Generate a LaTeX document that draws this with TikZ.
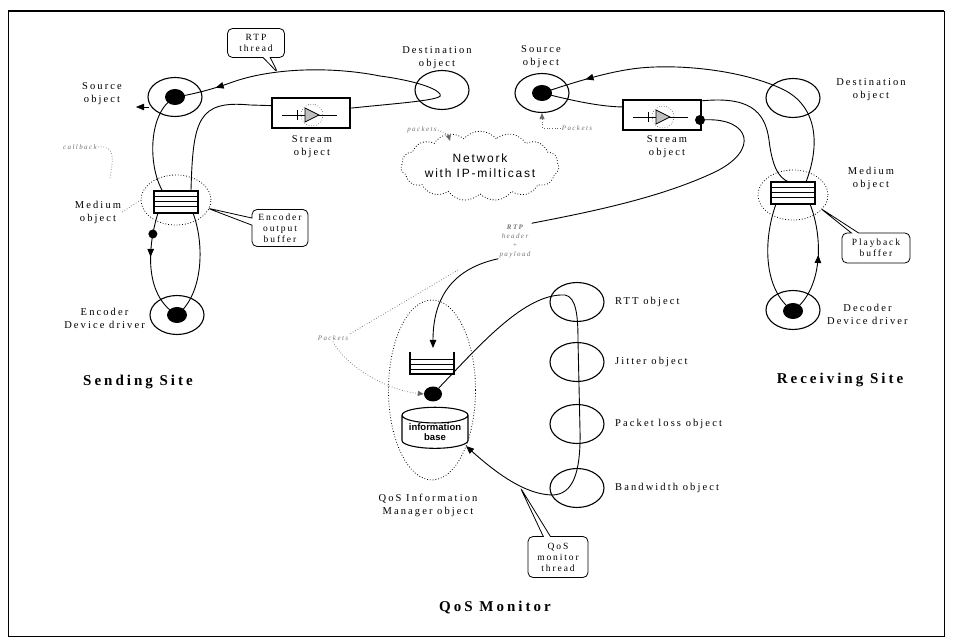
\documentclass[tikz,border=0pt]{standalone}
\usepackage{fontspec}
\setmainfont{Liberation Serif}
\newfontfamily\lblfont[LetterSpace=20]{Liberation Serif}
\newfontfamily\netfont[LetterSpace=15]{Liberation Sans}
\newfontfamily\basefont{Liberation Sans}
\usetikzlibrary{shapes.geometric,shapes.callouts,shapes.symbols,arrows.meta,decorations.markings}

\tikzset{
  obj/.style={draw, ellipse, line width=1.1pt, minimum width=54pt, minimum height=39pt, inner sep=0pt},
  blob/.style={fill, ellipse, minimum width=20pt, minimum height=16pt, inner sep=0pt},
  halo/.style={draw, ellipse, dotted, line width=0.8pt},
  lbl/.style={font=\lblfont\fontsize{10.5}{13}\selectfont, align=center, inner sep=1pt},
  ital/.style={font=\lblfont\itshape\fontsize{7}{9}\selectfont, text=black!55, align=center, inner sep=1pt},
  site/.style={font=\lblfont\bfseries\fontsize{15}{16}\selectfont},
  note/.style={rectangle callout, draw, rounded corners=5pt, line width=0.8pt, fill=white,
    font=\lblfont\fontsize{9.5}{11}\selectfont, align=center, inner sep=2pt},
  flow/.style={line width=0.9pt},
  endtip/.style={-{Triangle[length=8pt,width=6.5pt]}},
  midarrow/.style={postaction={decorate}, decoration={markings,
    mark=at position #1 with {\arrow{Triangle[length=8pt,width=6.5pt]}}}},
  tap/.style={dotted, line width=0.7pt, black!60},
  medbuf/.pic={
    \draw[line width=1.3pt, fill=white] (-22,-11) rectangle (22,11);
    \foreach \y in {-5,0,5} \draw[line width=1pt] (-22,\y) -- (22,\y);
  },
  qbuf/.pic={
    \draw[line width=1.2pt] (-22,-11) -- (-22,11) -- (22,11) -- (22,-11);
    \foreach \y in {-3,2,7} \draw[line width=1pt] (-22,\y) -- (22,\y);
  },
  stream/.pic={
    \draw[line width=1.2pt, fill=white] (-39,-15) rectangle (39,15);
    \draw[line width=0.6pt] (-29,2) -- (26,2);
    \draw[line width=0.6pt] (-14,-3) -- (-14,7);
    \draw[dotted, line width=0.5pt] (1,2) circle (11);
    \draw[line width=0.8pt, fill=black!25] (-6,-5) -- (8,2) -- (-6,9) -- cycle;
  },
}

\begin{document}
\begin{tikzpicture}[x=1pt, y=-1pt]
  \useasboundingbox (0,0) rectangle (954,644);
  \draw[line width=0.8pt] (8,11) rectangle (944,636);
  \draw[line width=1.4pt] (8,11) -- (944,11);

  \begin{scope}[every node/.style={obj}]
    \node (srcL) at (175,97)  {};
    \node (dstL) at (442,90)  {};
    \node (encL) at (177,315) {};
    \node (srcR) at (542,93)  {};
    \node (dstR) at (793,98)  {};
    \node (decR) at (793,310) {};
    \node (rtt)  at (577,302) {};
    \node (jit)  at (577,362) {};
    \node (pkt)  at (577,424) {};
    \node (bw)   at (577,488) {};
  \end{scope}

  \begin{scope}[every node/.style={blob}]
    \node (srcLdot) at (175,97)  {};
    \node (encLdot) at (177,315) {};
    \node (srcRdot) at (542,93)  {};
    \node (decRdot) at (793,311) {};
    \node[minimum width=18pt, minimum height=15pt] (qdot) at (433,394) {};
  \end{scope}

  \node[halo, minimum width=70pt, minimum height=50pt] (medLhalo) at (176,200) {};
  \node[halo, minimum width=70pt, minimum height=50pt] (medRhalo) at (793,195) {};
  \node[halo, minimum width=87pt, minimum height=180pt] (qmgr) at (432,390) {};
  \node[cloud, draw, dotted, line width=0.8pt, cloud puffs=15, cloud puff arc=100, aspect=2.8,
        minimum width=156pt, minimum height=56pt, inner sep=0pt, align=center,
        font=\netfont\fontsize{12}{15}\selectfont] (net) at (480,166) {Network\\with IP-milticast};

  \coordinate (medLtl) at (162,190);
  \coordinate (medLtr) at (191,190);
  \coordinate (medLbl) at (158,213);
  \coordinate (medLbr) at (193,213);
  \coordinate (medRtl) at (789,182);
  \coordinate (medRtr) at (806,182);
  \coordinate (medRbl) at (776,204);
  \coordinate (medRbr) at (810,204);
  \coordinate (dstLtip) at (440,94);
  \coordinate (dstRtop) at (640,68);

  % sending site loop
  \draw[flow] (medLtr) .. controls (193,120) and (198,100) .. (250,105) -- (352,108)
    .. controls (400,103) and (447,100) .. (dstLtip) .. controls (435,87) and (410,80) .. (380,76);
  \draw[flow, midarrow=0.8] (380,76) .. controls (330,66) and (270,68) .. (230,83)
    .. controls (210,90) and (190,95) .. (srcLdot.center);
  \draw[flow] (srcLdot.center) .. controls (148,112) and (148,165) .. (medLtl);
  \draw[flow, midarrow=0.4] (medLbl) .. controls (148,245) and (143,295) .. (encLdot.center)
    node[pos=0.2, fill, circle, inner sep=0pt, minimum size=9pt] (medLdot) {};
  \draw[flow] (medLbr) .. controls (205,245) and (203,295) .. (encLdot.center);

  % receiving site loop
  \draw[flow] (medRtr) .. controls (822,140) and (815,103) .. (780,88)
    .. controls (740,70) and (680,64) .. (dstRtop);
  \draw[flow, midarrow=0.55] (dstRtop) .. controls (610,71) and (575,82) .. (srcRdot.center);
  \draw[flow] (srcRdot.center) .. controls (570,100) and (600,107) .. (625,107) -- (700,101)
    .. controls (748,96) and (765,110) .. (769,140) .. controls (772,165) and (778,178) .. (medRtl);
  \draw[flow] (medRbl) .. controls (763,240) and (763,290) .. (decRdot.center);
  \draw[flow, midarrow=0.55] (decRdot.center) .. controls (822,290) and (824,240) .. (medRbr);

  \pic at (176,202) {medbuf};
  \pic at (793,193) {medbuf};
  \pic at (432,363) {qbuf};
  \pic at (311,113) {stream};
  \pic at (662,115) {stream};

  \node[fill, circle, inner sep=0pt, minimum size=10pt] (strRdot) at (700,120) {};

  % qos monitor
  \node[ital] (rtphdr) at (515,241) {\textbf{RTP}\\header\\+\\payload};
  \coordinate (qbuftop) at (433,348);
  \coordinate (rttin) at (565,295);
  \coordinate (bwout) at (553,495);
  \coordinate (ibasein) at (466,446);
  \draw[flow] (strRdot) .. controls (750,118) and (760,150) .. (715,172)
    .. controls (660,198) and (590,212) .. (rtphdr.north east);
  \draw[flow, endtip] (rtphdr.south west) .. controls (455,268) and (433,295) .. (qbuftop);
  \draw[flow] (qdot) .. controls (480,345) and (525,293) .. (rttin)
    .. controls (576,297) and (578,315) .. (578,340) -- (580,430)
    .. controls (581,475) and (572,494) .. (bwout);
  \draw[flow, endtip] (bwout) .. controls (525,495) and (495,472) .. (ibasein);

  \node[cylinder, draw, line width=1.1pt, shape border rotate=90, aspect=0.3, fill=white,
        minimum width=66pt, minimum height=37pt, inner sep=0pt, align=center,
        font=\basefont\bfseries\fontsize{9.5}{10}\selectfont] (ibase) at (435,432) {information\\base};

  % packets taps
  \coordinate (tapA) at (458,270);
  \coordinate (netin) at (450,141);
  \coordinate (cbend) at (110,178);
  \coordinate (srcLw) at (149,107);
  \coordinate (srcLout) at (136,107);
  \node[ital] (pktQ) at (333,338) {Packets};
  \node[ital] (pktL) at (422,130) {packets};
  \node[ital] (pktR) at (577,128) {Packets};
  \node[ital] (cb) at (80,147) {callback};
  \draw[tap] (tapA) -- (pktQ.north east);
  \draw[tap, -{Triangle[length=6pt,width=5pt]}] (pktQ.south) .. controls (345,365) and (385,390) .. (qdot.west);
  \draw[tap, -{Triangle[length=6pt,width=5pt]}] (pktL.east) .. controls (440,131) and (448,134) .. (netin);
  \draw[tap, -{Triangle[length=6pt,width=5pt]}] (pktR.west) -| (srcR.south);
  \draw[tap] (cb.east) .. controls (116,145) and (113,160) .. (cbend);
  \draw[endtip] (srcLw) -- (srcLout);

  % callouts
  \coordinate (rtptip) at (278,73);
  \coordinate (encbuftip) at (207,208);
  \coordinate (playtip) at (820,208);
  \coordinate (qostip) at (520,487);
  \node[note, callout absolute pointer={(rtptip)}, minimum width=57pt, minimum height=29pt] (rtpnote) at (256,43) {RTP\\thread};
  \node[note, callout absolute pointer={(encbuftip)}, minimum width=56pt, minimum height=37pt] (encnote) at (280,228) {Encoder\\output\\buffer};
  \node[note, callout absolute pointer={(playtip)}, minimum width=68pt, minimum height=30pt] (playnote) at (876,248) {Playback\\buffer};
  \node[note, callout absolute pointer={(qostip)}, minimum width=60pt, minimum height=41pt] (qosnote) at (558,557) {QoS\\monitor\\thread};

  % labels
  \begin{scope}[every node/.style={lbl}]
    \node (srcLlbl) at (102,94)  {Source\\object};
    \node (dstLlbl) at (437,58)  {Destination\\object};
    \node (strLlbl) at (312,147) {Stream\\object};
    \node (medLlbl) at (98,212)  {Medium\\object};
    \node[anchor=east] (encLlbl) at (146,318) {Encoder\\Device driver};
    \node (srcRlbl) at (541,57)  {Source\\object};
    \node (strRlbl) at (667,147) {Stream\\object};
    \node (dstRlbl) at (871,90)  {Destination\\object};
    \node (medRlbl) at (871,178) {Medium\\object};
    \node[anchor=west] (decRlbl) at (826,314) {Decoder\\Device driver};
    \node (qmgrlbl) at (428,505) {QoS Information\\Manager object};
    \node[anchor=west] at (614,302) {RTT object};
    \node[anchor=west] at (614,362) {Jitter object};
    \node[anchor=west] at (614,424) {Packet loss object};
    \node[anchor=west] at (614,488) {Bandwidth object};
  \end{scope}
  \draw[tap] (medLlbl.east) -- (medLhalo.west);

  \node[site] at (138,382) {Sending Site};
  \node[site] at (840,380) {Receiving Site};
  \node[site] at (495,608) {QoS Monitor};
\end{tikzpicture}
\end{document}
